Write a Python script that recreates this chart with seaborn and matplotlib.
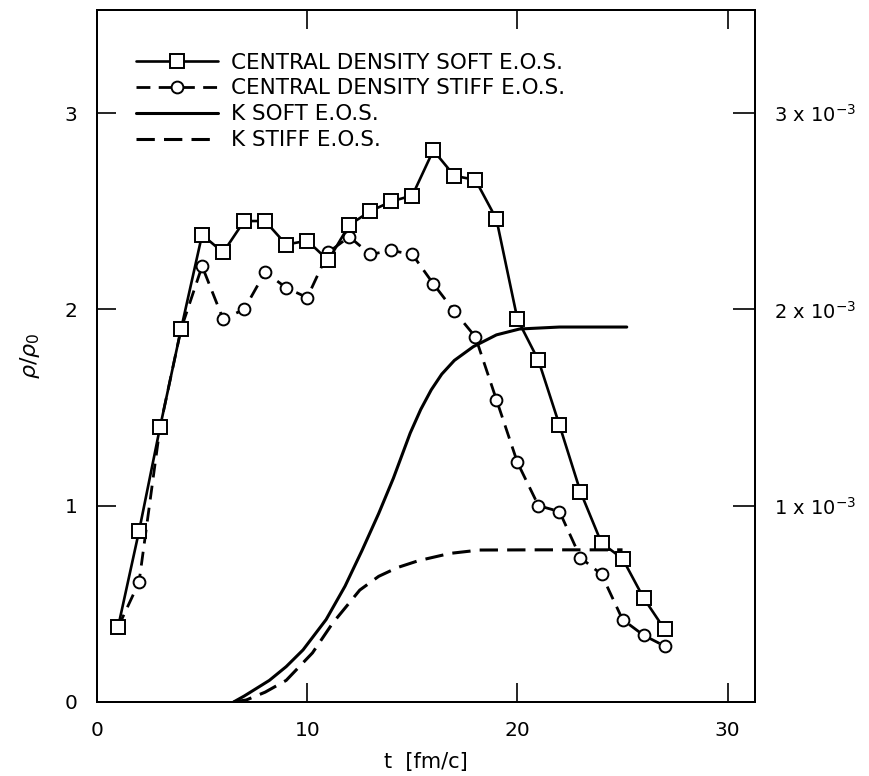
import numpy as np
import pandas as pd
import matplotlib
matplotlib.use("Agg")
import matplotlib.pyplot as plt
import seaborn as sns

# ---- data ----
t_points = [1, 2, 3, 4, 5, 6, 7, 8, 9, 10, 11, 12, 13, 14, 15, 16, 17, 18, 19,
            20, 21, 22, 23, 24, 25, 26, 27]
rho_soft = [0.38, 0.87, 1.40, 1.90, 2.38, 2.29, 2.45, 2.45, 2.33, 2.35, 2.25,
            2.43, 2.50, 2.55, 2.58, 2.81, 2.68, 2.66, 2.46, 1.95, 1.74, 1.41,
            1.07, 0.81, 0.73, 0.53, 0.37]
rho_stiff = [0.38, 0.61, 1.40, 1.90, 2.22, 1.95, 2.00, 2.19, 2.11, 2.06, 2.29,
             2.37, 2.28, 2.30, 2.28, 2.13, 1.99, 1.86, 1.54, 1.22, 1.00, 0.97,
             0.735, 0.65, 0.42, 0.34, 0.285]

k_soft_t = [6.5, 7.0, 8.2, 9.0, 9.8, 10.9, 11.8, 12.6, 13.4, 14.1, 14.9, 15.4,
            15.9, 16.4, 17.0, 17.9, 19.0, 20.1, 22.0, 25.2]
k_soft = [0.0, 0.03e-3, 0.11e-3, 0.18e-3, 0.265e-3, 0.42e-3, 0.59e-3, 0.77e-3,
          0.96e-3, 1.14e-3, 1.37e-3, 1.49e-3, 1.59e-3, 1.67e-3, 1.74e-3,
          1.81e-3, 1.87e-3, 1.90e-3, 1.91e-3, 1.91e-3]
k_stiff_t = [6.5, 7.1, 8.0, 9.0, 10.25, 11.2, 12.5, 13.4, 14.3, 15.3, 16.8,
             18.2, 21.0, 25.0]
k_stiff = [0.0, 0.01e-3, 0.05e-3, 0.11e-3, 0.25e-3, 0.40e-3, 0.57e-3,
           0.64e-3, 0.685e-3, 0.72e-3, 0.757e-3, 0.774e-3, 0.775e-3, 0.775e-3]

x_ticks = [0, 10, 20, 30]
y_ticks = [0, 1, 2, 3]
k_ticks = [1e-3, 2e-3, 3e-3]
k_tick_labels = [r"1 x 10$^{-3}$", r"2 x 10$^{-3}$", r"3 x 10$^{-3}$"]
labels = ["CENTRAL DENSITY SOFT E.O.S.", "CENTRAL DENSITY STIFF E.O.S.",
          "K SOFT E.O.S.", "K STIFF E.O.S."]

sns.set_style("ticks")
plt.rcParams['font.family'] = ['DejaVu Sans']
plt.rcParams['text.color'] = 'black'
plt.rcParams['axes.labelcolor'] = 'black'
plt.rcParams['xtick.color'] = 'black'
plt.rcParams['ytick.color'] = 'black'

fig = plt.figure(figsize=(8.69, 7.76), dpi=100)
ax = fig.add_axes([0.1116, 0.0954, 0.7572, 0.8917])
ax2 = ax.twinx()

df = pd.DataFrame({"t": t_points, "soft": rho_soft, "stiff": rho_stiff})
dk1 = pd.DataFrame({"t": k_soft_t, "k": k_soft})
dk2 = pd.DataFrame({"t": k_stiff_t, "k": k_stiff})

sns.lineplot(data=df, x="t", y="soft", ax=ax, color="black", lw=1.9,
             marker="s", markersize=9.5, markerfacecolor="white",
             markeredgecolor="black", markeredgewidth=1.4, zorder=4)
sns.lineplot(data=df, x="t", y="stiff", ax=ax, color="black", lw=2.0,
             linestyle=(0, (5, 3)), marker="o", markersize=8.5,
             markerfacecolor="white", markeredgecolor="black",
             markeredgewidth=1.4, zorder=3)
sns.lineplot(data=dk1, x="t", y="k", ax=ax2, color="black", lw=2.2)
sns.lineplot(data=dk2, x="t", y="k", ax=ax2, color="black", lw=2.2,
             linestyle=(0, (6, 3)))

ax.set_xlim(0, 31.3)
ax.set_ylim(0, 3.525)
ax2.set_ylim(0, 3.525e-3)

ax.set_xticks(x_ticks)
ax.set_yticks(y_ticks)
ax2.set_yticks(k_ticks)
ax2.set_yticklabels(k_tick_labels)

ax.tick_params(axis="both", direction="in", length=14, width=1.2,
               labelsize=14.5, pad=14, top=True, right=False)
ax.tick_params(axis="y", pad=14)
ax2.tick_params(axis="y", direction="in", length=16, width=1.2,
                labelsize=14, pad=14)
for a in (ax, ax2):
    for s in a.spines.values():
        s.set_linewidth(1.4)
        s.set_color("black")

ax.set_xlabel("t  [fm/c]", fontsize=15, labelpad=8)
ax.set_ylabel(r"$\rho/\rho_0$", fontsize=16, labelpad=16)
ax2.set_ylabel("")

handles = ax.get_lines()[:2] + ax2.get_lines()[:2]
leg = ax.legend(handles, labels, loc="upper left", bbox_to_anchor=(0.04, 0.957),
                frameon=False, fontsize=15.5, handlelength=3.8,
                handletextpad=0.6, labelspacing=0.27, borderaxespad=0.2)
if ax2.get_legend():
    ax2.get_legend().remove()

fig.savefig("out.png", dpi=100)
